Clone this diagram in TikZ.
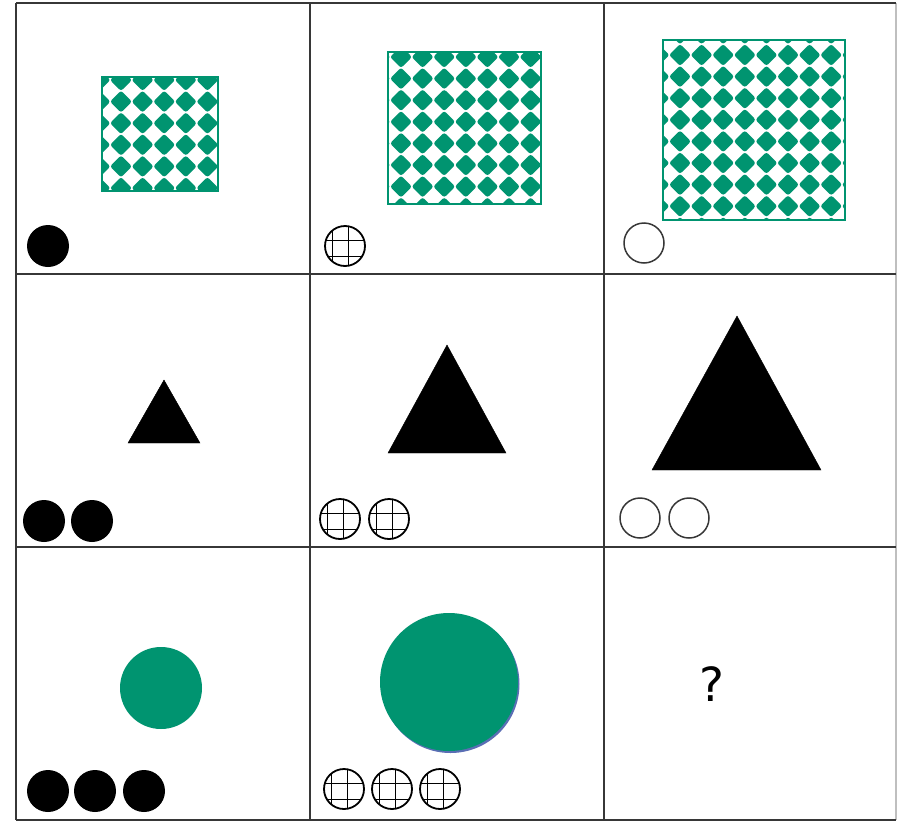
\documentclass[tikz,border=0pt]{standalone}
\usepackage{fontspec}
\newfontfamily\qfont{DejaVu Sans}
\definecolor{tealg}{RGB}{0,148,112}
\definecolor{gridc}{RGB}{55,55,55}
\definecolor{shadowb}{RGB}{90,110,180}
\tikzset{
  cellline/.style={draw=gridc, line width=2.4pt},
  edgeline/.style={draw=gray!50, line width=1.5pt},
  blackdot/.style={circle, fill=black, minimum size=42pt, inner sep=0pt},
  ringdot/.style={circle, draw=gridc, line width=1.5pt, minimum size=40pt, inner sep=0pt},
  tri/.style={fill=black},
  greendisc/.style={fill=tealg},
  patborder/.style={draw=tealg, line width=2pt},
  qmark/.style={font=\qfont\fontsize{47}{52}\selectfont, inner sep=0pt},
  gridring/.pic={
    \begin{scope}
      \clip (0,0) circle (20);
      \draw[line width=1.5pt] (-12.5,-30) -- (-12.5,30) (3.5,-30) -- (3.5,30)
                              (-30,-5.5) -- (30,-5.5) (-30,10.5) -- (30,10.5);
    \end{scope}
    \draw[line width=1.8pt] (0,0) circle (20);
  }
}
\newcommand\diapatch[6]{%
  \begin{scope}
    \clip (#1,#2) rectangle (#3,#4);
    \foreach \i in {-1,...,9} {
      \foreach \j in {-1,...,9} {
        \fill[tealg, rounded corners=2.5pt] ({#5+\i*21.6},{#6+\j*21.6})
          +(-11,0) -- +(0,-11) -- +(11,0) -- +(0,11) -- cycle;
      }
    }
  \end{scope}
  \draw[patborder] (#1,#2) rectangle (#3,#4);
}
\begin{document}
\begin{tikzpicture}[x=1pt,y=-1pt]
\useasboundingbox (0,0) rectangle (897,822);
\fill[white] (0,0) rectangle (897,822);

% ---- row 1 ----
\diapatch{102}{77}{218}{191}{121}{80}
\node[blackdot] (r1a) at (48,246) {};
\diapatch{388}{52}{541}{204}{401}{57}
\pic (r1b) at (345,246) {gridring};
\diapatch{663}{40}{845}{220}{680}{55}
\node[ringdot] (r1c) at (644,243) {};

% ---- row 2 ----
\draw[tri] (164,380) -- (200,443) -- (128,443) -- cycle;
\node[blackdot] (r2a1) at (44,521) {};
\node[blackdot] (r2a2) at (92,521) {};
\draw[tri] (447,345) -- (506,453) -- (388,453) -- cycle;
\pic (r2b1) at (340,519) {gridring};
\pic (r2b2) at (389,519) {gridring};
\draw[tri] (737,316) -- (821,470) -- (652,470) -- cycle;
\node[ringdot] (r2c1) at (640,518) {};
\node[ringdot] (r2c2) at (689,518) {};

% ---- row 3 ----
\fill[greendisc] (161,688) circle (41);
\node[blackdot] (r3a1) at (48,791) {};
\node[blackdot] (r3a2) at (95,791) {};
\node[blackdot] (r3a3) at (144,791) {};
\fill[shadowb] (450.5,684) circle (69);
\fill[greendisc] (449,682) circle (69);
\pic (r3b1) at (344,789) {gridring};
\pic (r3b2) at (392,789) {gridring};
\pic (r3b3) at (440,789) {gridring};
\node[qmark] (q) at (712,684) {?};

% ---- table ----
\draw[edgeline] (896,3) -- (896,820);
\draw[cellline] (16,3) -- (896,3) (16,274) -- (896,274) (16,547) -- (896,547) (16,820) -- (896,820);
\draw[cellline] (16,3) -- (16,820) (310,3) -- (310,820) (604,3) -- (604,820);
\end{tikzpicture}
\end{document}
